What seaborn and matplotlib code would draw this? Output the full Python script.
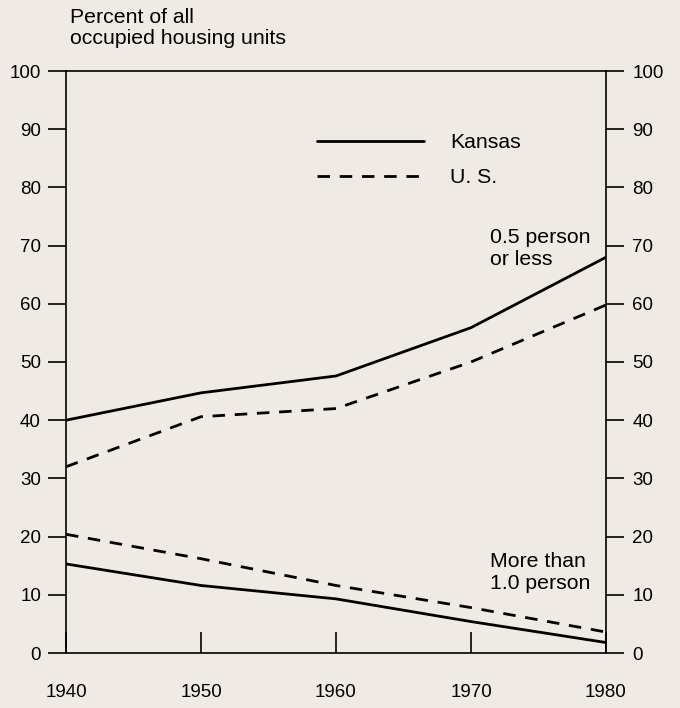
import matplotlib
matplotlib.use("Agg")
import matplotlib.pyplot as plt
import seaborn as sns
import pandas as pd

years = [1940, 1950, 1960, 1970, 1980]
kansas_low = [40.0, 44.7, 47.6, 55.9, 68.0]
us_low = [32.0, 40.6, 42.0, 50.0, 59.8]
kansas_high = [15.3, 11.6, 9.3, 5.4, 1.8]
us_high = [20.4, 16.2, 11.6, 7.8, 3.6]
y_ticks = [0, 10, 20, 30, 40, 50, 60, 70, 80, 90, 100]
x_ticks = [1940, 1950, 1960, 1970, 1980]

sns.set_theme(style="white")
plt.rcParams['font.family'] = ['Liberation Sans', 'DejaVu Sans']

bg = '#efebe4'
fig = plt.figure(figsize=(6.8, 7.08), dpi=100, facecolor=bg)
ax = fig.add_axes([66/680, 1-653/708, 540/680, 582/708])
ax.set_facecolor(bg)

rows = []
for reg, grp, vals in [("Kansas", "low", kansas_low), ("U. S.", "low", us_low),
                       ("Kansas", "high", kansas_high), ("U. S.", "high", us_high)]:
    for yr, v in zip(years, vals):
        rows.append({"year": yr, "value": v, "region": reg, "group": reg + grp})
df = pd.DataFrame(rows)

sns.lineplot(data=df, x="year", y="value", style="region", units="group",
             estimator=None, color="black", linewidth=2.0,
             dashes={"Kansas": "", "U. S.": (4.5, 3.5)}, ax=ax, legend=True)

leg = ax.legend(loc="upper left", bbox_to_anchor=(0.43, 0.926), frameon=False,
                handlelength=5.0, handletextpad=1.25, labelspacing=0.75,
                fontsize=15.3)
for t in leg.get_texts():
    t.set_color("black")

ax.set_xlim(1940, 1980)
ax.set_ylim(0, 100)
ax.set_xticks(x_ticks)
ax.set_yticks(y_ticks)
ax.set_xlabel("")
ax.set_ylabel("")
for s in ax.spines.values():
    s.set_color("black")
    s.set_linewidth(1.2)
    s.set_visible(True)
ax.tick_params(axis="y", direction="out", length=13, width=1.2, color="black",
               labelsize=13.5, labelcolor="black", pad=5, left=True)
ax.tick_params(axis="x", direction="in", length=15, width=1.2, color="black",
               labelsize=13.5, labelcolor="black", pad=22, bottom=True)

ax2 = ax.twinx()
ax2.set_ylim(0, 100)
ax2.set_yticks(y_ticks)
ax2.tick_params(axis="y", direction="out", length=13, width=1.2, color="black",
                labelsize=13.5, labelcolor="black", pad=6, right=True)
for s in ax2.spines.values():
    s.set_visible(False)

ax.text(1971.4, 73.0, "0.5 person\nor less", ha="left", va="top", fontsize=15.3,
        color="black", linespacing=1.2)
ax.text(1971.4, 17.3, "More than\n1.0 person", ha="left", va="top", fontsize=15.3,
        color="black", linespacing=1.2)

fig.text(70/680, 1-8/708, "Percent of all\noccupied housing units", ha="left",
         va="top", fontsize=15.3, color="black", linespacing=1.15)

fig.savefig("out.png", dpi=100, facecolor=bg)
